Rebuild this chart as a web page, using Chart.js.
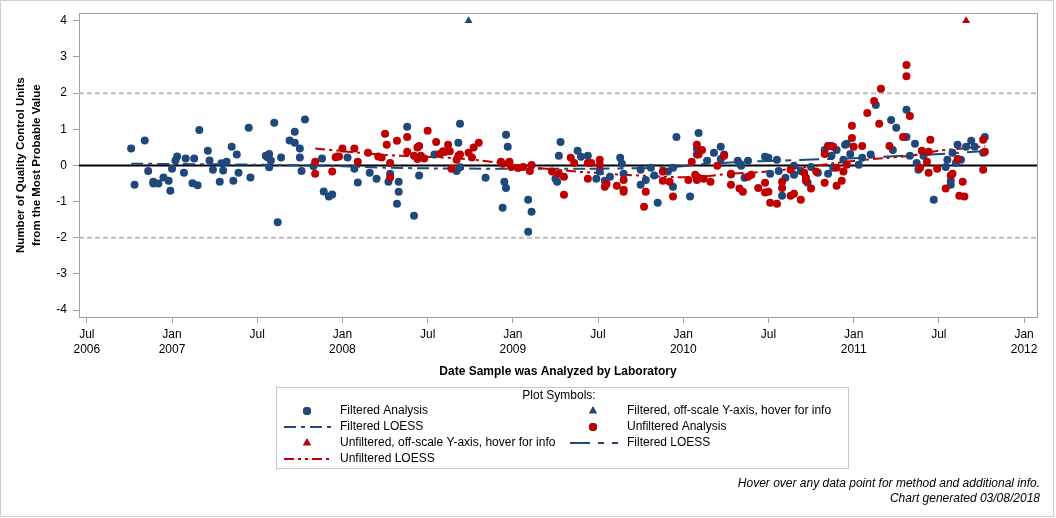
<!DOCTYPE html>
<html>
<head>
<meta charset="utf-8">
<script src="https://cdn.jsdelivr.net/npm/chart.js@4.4.1/dist/chart.umd.min.js"></script>
<style>
  html, body { margin: 0; padding: 0; background: #fff; }
  #wrap { position: relative; width: 1056px; height: 518px; }
</style>
</head>
<body>
<div id="wrap"><canvas id="qcChart"></canvas></div>
<script>
// Dates are decimal years (2007.5 = early July 2007)
const filteredDates = [
  2006.76, 2006.78, 2006.84, 2006.86, 2006.89, 2006.89, 2006.92, 2006.95, 2006.98, 2006.99,
  2007.00, 2007.02, 2007.03, 2007.07, 2007.08, 2007.12, 2007.13, 2007.15, 2007.16, 2007.21,
  2007.22, 2007.24, 2007.28, 2007.29, 2007.30, 2007.32, 2007.35, 2007.36, 2007.38, 2007.39,
  2007.45, 2007.46, 2007.55, 2007.56, 2007.57, 2007.57, 2007.58, 2007.60, 2007.62, 2007.64,
  2007.69, 2007.72, 2007.72, 2007.75, 2007.75, 2007.76, 2007.78, 2007.83, 2007.88, 2007.89,
  2007.92, 2007.94, 2008.03, 2008.07, 2008.09, 2008.16, 2008.20, 2008.27, 2008.28, 2008.32,
  2008.33, 2008.33, 2008.38, 2008.42, 2008.45, 2008.54, 2008.67, 2008.68, 2008.69, 2008.69,
  2008.84, 2008.94, 2008.95, 2008.96, 2008.96, 2008.97, 2009.09, 2009.09, 2009.11, 2009.25,
  2009.26, 2009.27, 2009.28, 2009.38, 2009.40, 2009.44, 2009.49, 2009.51, 2009.54, 2009.57,
  2009.63, 2009.64, 2009.65, 2009.75, 2009.75, 2009.78, 2009.81, 2009.83, 2009.85, 2009.91,
  2009.94, 2009.94, 2009.96, 2010.04, 2010.08, 2010.08, 2010.09, 2010.14, 2010.18, 2010.22,
  2010.22, 2010.24, 2010.28, 2010.32, 2010.33, 2010.34, 2010.36, 2010.38, 2010.48, 2010.50,
  2010.51, 2010.55, 2010.56, 2010.58, 2010.60, 2010.65, 2010.65, 2010.69, 2010.73, 2010.75,
  2010.79, 2010.83, 2010.85, 2010.85, 2010.87, 2010.87, 2010.88, 2010.90, 2010.94, 2010.95,
  2010.96, 2010.98, 2011.03, 2011.05, 2011.10, 2011.13, 2011.22, 2011.23, 2011.25, 2011.31,
  2011.31, 2011.33, 2011.36, 2011.37, 2011.38, 2011.41, 2011.47, 2011.54, 2011.55, 2011.57,
  2011.57, 2011.58, 2011.60, 2011.61, 2011.63, 2011.66, 2011.69, 2011.71, 2011.76, 2011.77
];
const filteredValues = [
  0.47, -0.53, 0.69, -0.15, -0.45, -0.50, -0.50, -0.33, -0.42, -0.70,
  -0.09, 0.14, 0.25, -0.20, 0.19, -0.49, 0.19, -0.55, 0.98, 0.41,
  0.14, -0.12, -0.45, 0.06, -0.14, 0.10, 0.52, -0.42, 0.30, -0.20,
  1.04, -0.33, 0.27, 0.23, 0.32, -0.05, 0.14, 1.18, -1.57, 0.22,
  0.69, 0.63, 0.93, 0.47, 0.22, -0.15, 1.27, -0.02, 0.19, -0.72,
  -0.86, -0.80, 0.22, -0.09, -0.47, -0.20, -0.37, -0.45, -0.23, -1.06,
  -0.45, -0.73, 1.07, -1.39, -0.28, 0.30, -0.15, 0.63, -0.05, 1.15,
  -0.34, -1.17, -0.45, -0.62, 0.85, 0.52, -1.83, -0.95, -1.28, -0.37,
  -0.45, 0.27, 0.65, 0.41, 0.24, 0.27, -0.37, -0.17, -0.42, -0.31,
  0.21, 0.05, -0.23, -0.53, -0.12, -0.40, -0.06, -0.28, -1.03, -0.17,
  -0.06, -0.59, 0.79, -0.86, 0.46, 0.30, 0.90, 0.13, 0.35, 0.18,
  0.52, 0.30, -0.25, 0.13, 0.05, -0.01, -0.34, 0.13, 0.24, 0.21,
  -0.23, 0.16, -0.15, -0.84, -0.34, -0.26, -0.01, -0.15, -0.48, -0.04,
  -0.20, 0.43, -0.23, 0.54, 0.54, 0.27, -0.06, 0.43, 0.16, 0.57,
  0.60, 0.32, 0.02, 0.21, 0.30, 1.67, 1.26, 0.43, 1.04, 1.54,
  0.79, 0.27, 0.60, 0.07, -0.12, 0.27, -0.95, -0.04, 0.16, -0.42,
  -0.53, 0.35, 0.07, 0.57, 0.16, 0.52, 0.68, 0.52, 0.35, 0.79
];

const unfilteredDates = [
  2007.84, 2007.84, 2007.94, 2007.96, 2007.97, 2007.98, 2008.00, 2008.07, 2008.09, 2008.15,
  2008.21, 2008.23, 2008.25, 2008.26, 2008.28, 2008.28, 2008.32, 2008.38, 2008.38, 2008.42,
  2008.44, 2008.44, 2008.45, 2008.46, 2008.48, 2008.50, 2008.55, 2008.57, 2008.59, 2008.60,
  2008.62, 2008.63, 2008.64, 2008.67, 2008.68, 2008.69, 2008.74, 2008.76, 2008.77, 2008.80,
  2008.93, 2008.94, 2008.98, 2008.99, 2009.03, 2009.06, 2009.10, 2009.11, 2009.23, 2009.27,
  2009.30, 2009.30, 2009.34, 2009.36, 2009.44, 2009.44, 2009.46, 2009.51, 2009.51, 2009.54,
  2009.55, 2009.61, 2009.65, 2009.65, 2009.65, 2009.77, 2009.78, 2009.88, 2009.88, 2009.92,
  2009.94, 2010.03, 2010.05, 2010.07, 2010.08, 2010.08, 2010.09, 2010.09, 2010.11, 2010.12,
  2010.16, 2010.20, 2010.24, 2010.28, 2010.28, 2010.33, 2010.35, 2010.38, 2010.40, 2010.44,
  2010.48, 2010.48, 2010.50, 2010.51, 2010.55, 2010.58, 2010.58, 2010.63, 2010.63, 2010.65,
  2010.69, 2010.71, 2010.72, 2010.72, 2010.75, 2010.78, 2010.83, 2010.83, 2010.85, 2010.88,
  2010.90, 2010.90, 2010.93, 2010.94, 2010.96, 2010.99, 2010.99, 2011.00, 2011.05, 2011.08,
  2011.12, 2011.15, 2011.16, 2011.21, 2011.29, 2011.31, 2011.31, 2011.33, 2011.39, 2011.40,
  2011.43, 2011.44, 2011.44, 2011.45, 2011.49, 2011.54, 2011.57, 2011.58, 2011.61, 2011.62,
  2011.64, 2011.65, 2011.76, 2011.76, 2011.77
];
const unfilteredValues = [
  0.10, -0.23, -0.17, 0.23, 0.25, 0.25, 0.47, 0.47, 0.10, 0.35,
  0.25, 0.22, 0.88, 0.57, 0.07, -0.33, 0.68, 0.79, 0.38, 0.27,
  0.50, 0.18, 0.54, 0.27, 0.19, 0.96, 0.65, 0.32, 0.39, 0.37,
  0.57, 0.39, -0.09, 0.16, 0.27, 0.30, 0.35, 0.22, 0.50, 0.63,
  0.10, 0.05, 0.10, -0.04, -0.07, -0.04, -0.15, 0.01, -0.17, -0.23,
  -0.31, -0.81, 0.21, 0.07, -0.37, 0.07, 0.07, 0.16, 0.01, -0.59,
  -0.51, -0.56, -0.40, -0.67, -0.73, -1.14, -0.73, -0.17, -0.42, -0.45,
  -0.86, -0.40, 0.10, -0.26, 0.57, -0.40, 0.30, -0.34, 0.43, -0.37,
  -0.45, -0.01, 0.27, -0.23, -0.53, -0.64, -0.73, -0.31, -0.26, -0.62,
  -0.48, -0.75, -0.73, -1.03, -1.06, -0.62, -0.45, -0.84, -0.12, -0.78,
  -0.95, -0.20, -0.34, -0.42, -0.64, -0.17, -0.48, 0.32, 0.54, 0.52,
  -0.06, -0.56, -0.42, -0.17, 0.02, 1.10, 0.76, 0.52, 0.54, 1.45,
  1.78, 1.15, 2.12, 0.54, 0.79, 2.78, 2.47, 1.37, -0.06, 0.41,
  0.10, -0.20, 0.38, 0.71, -0.09, -0.64, -0.28, -0.23, 0.18, -0.84,
  -0.45, -0.86, -0.12, 0.71, 0.38
];

// off-scale results, plotted at the top of the axis
const filteredOffDates = [2008.74];
const filteredOffValues = [4];
const unfilteredOffDates = [2011.66];
const unfilteredOffValues = [4];

// LOESS curves
const filteredLoessDates = [2006.76, 2007.0, 2007.5, 2008.0, 2008.25, 2008.5, 2009.0, 2009.45];
const filteredLoessValues = [0.05, 0.04, 0.02, -0.02, -0.06, -0.08, -0.09, -0.09];
const filteredLoess2Dates = [2009.45, 2009.9, 2010.1, 2010.35, 2010.55, 2010.8, 2011.0, 2011.3, 2011.55, 2011.77];
const filteredLoess2Values = [-0.09, -0.06, 0.03, 0.10, 0.13, 0.17, 0.20, 0.27, 0.33, 0.40];
const unfilteredLoessDates = [2007.84, 2007.99, 2008.22, 2008.34, 2008.55, 2008.81, 2009.02, 2009.26, 2009.55, 2009.75, 2009.94, 2010.08, 2010.28, 2010.51, 2010.69, 2010.9, 2011.03, 2011.17, 2011.33, 2011.5, 2011.62, 2011.77];
const unfilteredLoessValues = [0.47, 0.40, 0.30, 0.27, 0.23, 0.14, 0.0, -0.12, -0.23, -0.28, -0.32, -0.32, -0.23, -0.16, -0.06, 0.07, 0.14, 0.20, 0.27, 0.41, 0.46, 0.53];

const refLevels = [2, -2];

const xTickValues = [2006.5, 2007, 2007.5, 2008, 2008.5, 2009, 2009.5, 2010, 2010.5, 2011, 2011.5, 2012];
const xTickLabels = [['Jul', '2006'], ['Jan', '2007'], ['Jul'], ['Jan', '2008'], ['Jul'], ['Jan', '2009'],
                     ['Jul'], ['Jan', '2010'], ['Jul'], ['Jan', '2011'], ['Jul'], ['Jan', '2012']];
const yTickValues = [-4, -3, -2, -1, 0, 1, 2, 3, 4];

const X_MIN = 2006.454, X_MAX = 2012.076;
const Y_MIN = -4.19, Y_MAX = 4.21;

const BLUE = '#1f487c';
const RED = '#c00000';
const FONT = "'Liberation Sans', Arial, sans-serif";

function pairs(xs, ys) {
    return xs.map((x, i) => ({ x: x, y: ys[i] }));
}

Chart.defaults.font.family = FONT;
Chart.defaults.color = '#000';

const datasets = [
    { label: 'Filtered Analysis', data: pairs(filteredDates, filteredValues),
      pointStyle: 'circle', pointRadius: 4, pointBorderWidth: 0, backgroundColor: BLUE, borderColor: BLUE, order: 2 },
    { label: 'Unfiltered Analysis', data: pairs(unfilteredDates, unfilteredValues),
      pointStyle: 'circle', pointRadius: 4, pointBorderWidth: 0, backgroundColor: RED, borderColor: RED, order: 1 },
    { label: 'Filtered, off-scale Y-axis, hover for info', data: pairs(filteredOffDates, filteredOffValues),
      pointStyle: 'triangle', pointRadius: 4.6, pointBorderWidth: 0, backgroundColor: BLUE, borderColor: BLUE, order: 1 },
    { label: 'Unfiltered, off-scale Y-axis, hover for info', data: pairs(unfilteredOffDates, unfilteredOffValues),
      pointStyle: 'triangle', pointRadius: 4.6, pointBorderWidth: 0, backgroundColor: RED, borderColor: RED, order: 1 },
    { label: 'Filtered LOESS', data: pairs(filteredLoessDates, filteredLoessValues), showLine: true,
      pointRadius: 0, borderColor: BLUE, borderWidth: 2, borderDash: [12, 5, 4, 5], tension: 0.3, order: 4 },
    { label: 'Filtered LOESS', data: pairs(filteredLoess2Dates, filteredLoess2Values), showLine: true,
      pointRadius: 0, borderColor: BLUE, borderWidth: 2, borderDash: [20, 8, 6, 8], tension: 0.3, order: 4 },
    { label: 'Unfiltered LOESS', data: pairs(unfilteredLoessDates, unfilteredLoessValues), showLine: true,
      pointRadius: 0, borderColor: RED, borderWidth: 2, borderDash: [10, 4, 3, 4, 3, 4], tension: 0.3, order: 3 },
    // reference lines
    { label: 'zero', data: [{ x: X_MIN, y: 0 }, { x: X_MAX, y: 0 }], showLine: true, pointRadius: 0,
      borderColor: '#000', borderWidth: 2, order: 9 }
];
refLevels.forEach(v => {
    datasets.push({ label: 'ref', data: [{ x: X_MIN, y: v }, { x: X_MAX, y: v }], showLine: true, pointRadius: 0,
        borderColor: '#c0c0c0', borderWidth: 2, borderDash: [5, 3], order: 10 });
});

// which datasets go in the legend, in reading order (two columns)
const legendOrder = [0, 2, 4, 1, 3, 5, 6];

function drawLegendSymbol(ctx, ds, cx, cy) {
    ctx.save();
    if (ds.showLine) {
        ctx.strokeStyle = ds.borderColor;
        ctx.lineWidth = 2;
        ctx.setLineDash(ds.borderDash || []);
        ctx.beginPath();
        ctx.moveTo(cx - 23, cy);
        ctx.lineTo(cx + 25, cy);
        ctx.stroke();
    } else {
        Chart.helpers.drawPoint(ctx, { pointStyle: ds.pointStyle, radius: ds.pointRadius, borderWidth: 0, rotation: 0 }, cx, cy);
        ctx.fillStyle = ds.backgroundColor;
        ctx.fill();
    }
    ctx.restore();
}

const decorPlugin = {
    id: 'decor',
    beforeDatasetsDraw(chart) {
        const a = chart.chartArea;
        const ctx = chart.ctx;
        ctx.save();
        ctx.strokeStyle = '#a0a0a0';
        ctx.lineWidth = 1;
        ctx.strokeRect(Math.round(a.left) + 0.5, Math.round(a.top) + 0.5,
                       Math.round(a.right - a.left), Math.round(a.bottom - a.top));
        ctx.restore();
    },
    afterDraw(chart) {
        const ctx = chart.ctx;
        ctx.save();
        // outer frame
        ctx.strokeStyle = '#d0d0d0';
        ctx.lineWidth = 1;
        ctx.strokeRect(0.5, 0.5, 1053, 516);

        // legend box
        ctx.strokeStyle = '#c8c8c8';
        ctx.strokeRect(276.5, 387.5, 572, 81);
        ctx.fillStyle = '#000';
        ctx.font = '12px ' + FONT;
        ctx.textBaseline = 'middle';
        ctx.textAlign = 'center';
        ctx.fillText('Plot Symbols:', 559, 396);

        const colSymbol = [307, 593];
        const colText = [340, 627];
        legendOrder.forEach((dsIndex, k) => {
            const ds = chart.data.datasets[dsIndex];
            const col = k % 2;
            const row = Math.floor(k / 2);
            const cy = 411 + row * 16;
            drawLegendSymbol(ctx, ds, colSymbol[col], cy);
            ctx.fillStyle = '#000';
            ctx.textAlign = 'left';
            ctx.fillText(ds.label, colText[col], cy);
        });

        // footnotes
        ctx.font = 'italic 12px ' + FONT;
        ctx.textAlign = 'right';
        ctx.fillText('Hover over any data point for method and additional info.', 1040, 484);
        ctx.fillText('Chart generated 03/08/2018', 1040, 499);
        ctx.restore();
    }
};

new Chart(document.getElementById('qcChart'), {
    type: 'scatter',
    data: { datasets: datasets },
    plugins: [decorPlugin],
    options: {
        responsive: true,
        maintainAspectRatio: false,
        animation: false,
        layout: { padding: { top: 12, right: 19, bottom: 135, left: 0 } },
        plugins: { legend: { display: false }, tooltip: { enabled: true } },
        scales: {
            x: {
                type: 'linear',
                min: X_MIN,
                max: X_MAX,
                afterBuildTicks: s => { s.ticks = xTickValues.map(v => ({ value: v })); },
                afterFit: s => { s.height = 66; },
                ticks: {
                    autoSkip: false, maxRotation: 0, padding: 4,
                    font: { size: 12, lineHeight: 1.25 }, color: '#000',
                    callback: (v, i) => xTickLabels[i]
                },
                grid: { display: true, drawOnChartArea: false, drawTicks: true, tickLength: 6, color: '#a0a0a0' },
                border: { display: false },
                title: {
                    display: true, text: 'Date Sample was Analyzed by Laboratory',
                    font: { size: 12, weight: 'bold' }, color: '#000', padding: { top: 0, bottom: 4 }
                }
            },
            y: {
                type: 'linear',
                min: Y_MIN,
                max: Y_MAX,
                afterBuildTicks: s => { s.ticks = yTickValues.map(v => ({ value: v })); },
                afterFit: s => { s.width = 79; },
                ticks: { padding: 6, font: { size: 12 }, color: '#000', callback: v => String(v) },
                grid: { display: true, drawOnChartArea: false, drawTicks: true, tickLength: 6, color: '#a0a0a0' },
                border: { display: false },
                title: {
                    display: true,
                    text: ['Number of Quality Control Units', 'from the Most Probable Value'],
                    font: { size: 11.5, weight: 'bold', lineHeight: 1.4 }, color: '#000',
                    padding: { top: 13, bottom: 0 }
                }
            }
        }
    }
});
</script>
</body>
</html>
